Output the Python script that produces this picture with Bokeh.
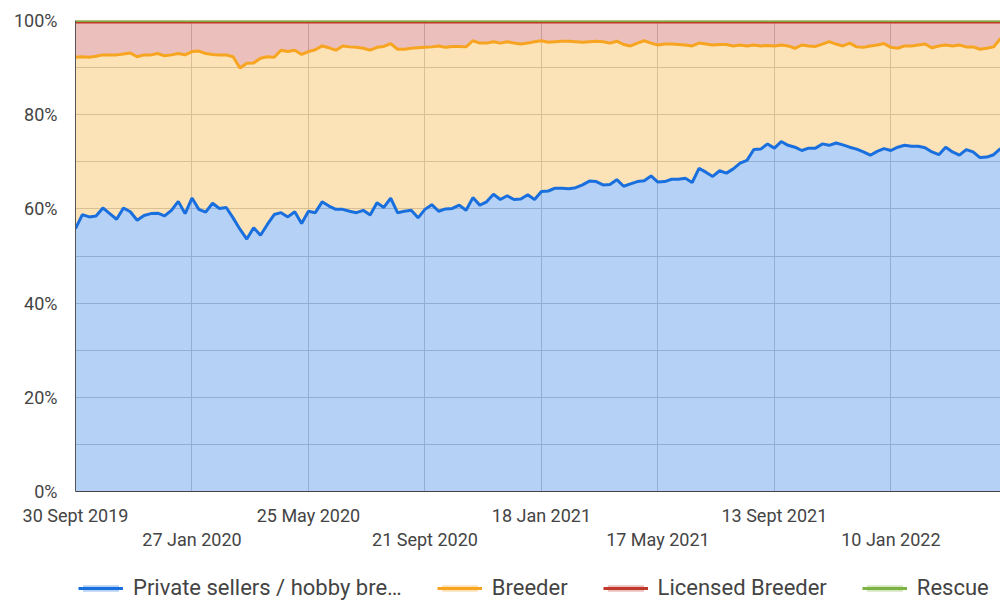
from bokeh.plotting import figure
from bokeh.layouts import column
from bokeh.models import (ColumnDataSource, Range1d, FixedTicker, LinearAxis,
                          Legend, LegendItem)
from bokeh.embed import file_html
from bokeh.resources import INLINE

# ---- data (weekly shares, %), week 0 = 30 Sept 2019 ----
private = [
    55.8, 58.8, 58.3, 58.5, 60.2, 59.0, 57.8, 60.2, 59.4, 57.6,
    58.6, 59.0, 59.1, 58.5, 59.7, 61.6, 59.0, 62.3, 59.9, 59.3,
    61.2, 60.1, 60.3, 58.1, 55.7, 53.6, 56.0, 54.4, 56.7, 58.8,
    59.2, 58.3, 59.4, 56.9, 59.5, 59.2, 61.5, 60.6, 59.9, 59.9,
    59.5, 59.2, 59.7, 58.7, 61.3, 60.3, 62.3, 59.2, 59.5, 59.7,
    58.1, 59.9, 60.9, 59.5, 60.0, 60.1, 60.8, 59.7, 62.4, 60.8,
    61.5, 63.1, 62.0, 62.8, 62.0, 62.1, 63.0, 62.0, 63.7, 63.8,
    64.4, 64.4, 64.3, 64.5, 65.1, 65.9, 65.8, 65.1, 65.2, 66.2,
    64.8, 65.3, 65.8, 66.0, 67.0, 65.7, 65.8, 66.3, 66.3, 66.5,
    65.6, 68.6, 67.8, 66.9, 68.1, 67.6, 68.5, 69.7, 70.3, 72.6,
    72.7, 73.8, 72.9, 74.3, 73.5, 73.1, 72.4, 72.9, 72.9, 73.8,
    73.5, 74.0, 73.6, 73.1, 72.7, 72.1, 71.4, 72.2, 72.8, 72.4,
    73.1, 73.5, 73.3, 73.3, 73.0, 72.1, 71.5, 73.1, 72.1, 71.4,
    72.6, 72.1, 70.9, 71.0, 71.5, 72.8,
]
breeder = [
    36.4, 33.5, 33.9, 33.9, 32.5, 33.7, 34.9, 32.7, 33.7, 34.7,
    34.1, 33.7, 33.9, 34.0, 33.0, 31.4, 33.7, 31.1, 33.6, 33.7,
    31.6, 32.6, 32.4, 34.2, 34.2, 37.3, 35.0, 37.6, 35.6, 33.4,
    34.5, 35.1, 34.3, 35.9, 33.9, 34.6, 33.1, 33.6, 33.8, 34.7,
    34.9, 35.1, 34.4, 35.0, 33.0, 34.2, 32.8, 34.7, 34.4, 34.4,
    36.1, 34.4, 33.5, 35.1, 34.3, 34.4, 33.7, 34.7, 33.3, 34.4,
    33.7, 32.4, 33.2, 32.7, 33.2, 32.9, 32.2, 33.5, 32.0, 31.6,
    31.1, 31.2, 31.3, 31.0, 30.3, 29.6, 29.8, 30.4, 30.0, 29.4,
    30.1, 29.3, 29.4, 29.7, 28.2, 29.1, 29.2, 28.7, 28.6, 28.3,
    29.0, 26.6, 27.2, 27.9, 26.8, 27.3, 26.1, 25.1, 24.3, 22.2,
    21.9, 20.9, 21.7, 20.5, 21.1, 21.0, 22.4, 21.7, 21.6, 21.2,
    22.0, 21.0, 21.0, 22.1, 21.7, 22.2, 23.2, 22.6, 22.3, 21.9,
    21.0, 21.1, 21.3, 21.5, 22.0, 22.1, 23.1, 21.7, 22.5, 23.4,
    21.8, 22.3, 23.0, 23.1, 22.9, 23.4,
]
licensed = [
    7.5, 7.4, 7.5, 7.3, 7.0, 7.0, 7.0, 6.8, 6.6, 7.4,
    7.0, 7.0, 6.7, 7.2, 7.0, 6.7, 7.0, 6.3, 6.2, 6.7,
    6.9, 7.0, 7.0, 7.4, 9.8, 8.8, 8.7, 7.7, 7.4, 7.5,
    6.0, 6.3, 6.0, 6.9, 6.3, 5.9, 5.1, 5.5, 6.0, 5.1,
    5.3, 5.4, 5.6, 6.0, 5.4, 5.2, 4.6, 5.8, 5.8, 5.6,
    5.5, 5.4, 5.3, 5.1, 5.4, 5.2, 5.2, 5.3, 4.0, 4.5,
    4.5, 4.2, 4.5, 4.2, 4.5, 4.7, 4.5, 4.2, 4.0, 4.3,
    4.2, 4.1, 4.1, 4.2, 4.3, 4.2, 4.1, 4.2, 4.5, 4.1,
    4.8, 5.1, 4.5, 4.0, 4.5, 4.9, 4.7, 4.7, 4.8, 4.9,
    5.1, 4.5, 4.7, 4.9, 4.8, 4.8, 5.1, 4.9, 5.1, 4.9,
    5.1, 5.0, 5.1, 4.9, 5.1, 5.6, 4.9, 5.1, 5.2, 4.7,
    4.2, 4.7, 5.1, 4.5, 5.3, 5.4, 5.1, 4.9, 4.6, 5.4,
    5.6, 5.1, 5.1, 4.9, 4.7, 5.5, 5.1, 4.9, 5.1, 4.9,
    5.3, 5.3, 5.8, 5.6, 5.3, 3.5,
]
rescue = [
    0.3, 0.3, 0.3, 0.3, 0.3, 0.3, 0.3, 0.3, 0.3, 0.3,
    0.3, 0.3, 0.3, 0.3, 0.3, 0.3, 0.3, 0.3, 0.3, 0.3,
    0.3, 0.3, 0.3, 0.3, 0.3, 0.3, 0.3, 0.3, 0.3, 0.3,
    0.3, 0.3, 0.3, 0.3, 0.3, 0.3, 0.3, 0.3, 0.3, 0.3,
    0.3, 0.3, 0.3, 0.3, 0.3, 0.3, 0.3, 0.3, 0.3, 0.3,
    0.3, 0.3, 0.3, 0.3, 0.3, 0.3, 0.3, 0.3, 0.3, 0.3,
    0.3, 0.3, 0.3, 0.3, 0.3, 0.3, 0.3, 0.3, 0.3, 0.3,
    0.3, 0.3, 0.3, 0.3, 0.3, 0.3, 0.3, 0.3, 0.3, 0.3,
    0.3, 0.3, 0.3, 0.3, 0.3, 0.3, 0.3, 0.3, 0.3, 0.3,
    0.3, 0.3, 0.3, 0.3, 0.3, 0.3, 0.3, 0.3, 0.3, 0.3,
    0.3, 0.3, 0.3, 0.3, 0.3, 0.3, 0.3, 0.3, 0.3, 0.3,
    0.3, 0.3, 0.3, 0.3, 0.3, 0.3, 0.3, 0.3, 0.3, 0.3,
    0.3, 0.3, 0.3, 0.3, 0.3, 0.3, 0.3, 0.3, 0.3, 0.3,
    0.3, 0.3, 0.3, 0.3, 0.3, 0.3,
]
series_names = ["Private sellers / hobby bre\u2026", "Breeder", "Licensed Breeder", "Rescue"]
tick_weeks = [0, 17, 34, 51, 68, 85, 102, 119]
tick_labels = ["30 Sept 2019", "27 Jan 2020", "25 May 2020", "21 Sept 2020",
               "18 Jan 2021", "17 May 2021", "13 Sept 2021", "10 Jan 2022"]
y_ticks = [0, 20, 40, 60, 80, 100]

line_colors = ["#1a6fdf", "#f7a520", "#c0392b", "#7cb342"]
FONT = "Roboto"
TXT = "#444444"
FILL_ALPHA = 0.32

src = ColumnDataSource(dict(x=list(range(len(private))), private=private,
                            breeder=breeder, licensed=licensed, rescue=rescue))
keys = ["private", "breeder", "licensed", "rescue"]

p = figure(width=1000, height=573, output_backend="svg", toolbar_location=None,
           x_range=Range1d(0, len(private) - 1), y_range=Range1d(0, 100),
           min_border_left=75, min_border_right=0, min_border_top=20,
           min_border_bottom=82, x_axis_location=None)
p.outline_line_color = None
p.background_fill_color = "white"

p.varea_stack(keys, x="x", source=src, color=line_colors, fill_alpha=FILL_ALPHA)
p.vline_stack(keys, x="x", source=src, color=line_colors, line_width=3)

# grids
p.xgrid.ticker = FixedTicker(ticks=tick_weeks)
p.ygrid.ticker = FixedTicker(ticks=list(range(0, 101, 10)))
p.xgrid.grid_line_color = "#cccccc"
p.ygrid.grid_line_color = "#cccccc"

# y axis
ya = p.yaxis[0]
ya.ticker = FixedTicker(ticks=y_ticks)
ya.major_label_overrides = {v: f"{v}%" for v in y_ticks}
ya.major_tick_line_color = None
ya.minor_tick_line_color = None
ya.axis_line_color = "#555555"
ya.major_label_standoff = 12
ya.major_label_text_font = FONT
ya.major_label_text_font_size = "18px"
ya.major_label_text_color = TXT

def make_xaxis(ticks, standoff, tick_out, line):
    ax = LinearAxis(ticker=FixedTicker(ticks=ticks),
                    major_label_overrides={t: tick_labels[tick_weeks.index(t)] for t in ticks})
    ax.major_tick_line_color = None
    ax.minor_tick_line_color = None
    ax.major_tick_out = tick_out
    ax.axis_line_color = "#444444" if line else None
    ax.major_label_standoff = standoff
    ax.major_label_text_font = FONT
    ax.major_label_text_font_size = "18px"
    ax.major_label_text_color = TXT
    return ax

p.add_layout(make_xaxis(tick_weeks[0::2], 13, 0, True), "below")
p.add_layout(make_xaxis(tick_weeks[1::2], 0, 0, False), "below")

# legend strip (glyph sources hold points outside the visible range)
lf = figure(width=1000, height=27, output_backend="svg", toolbar_location=None,
            x_range=Range1d(0, 1), y_range=Range1d(0, 1),
            min_border_left=0, min_border_right=0, min_border_top=0,
            min_border_bottom=0, x_axis_location=None, y_axis_location=None)
lf.outline_line_color = None
lf.grid.visible = False
dummy = ColumnDataSource(dict(x=[5, 6], y=[5, 5], y0=[4, 4]))
items = []
for name, c in zip(series_names, line_colors):
    a = lf.varea(x="x", y1="y0", y2="y", source=dummy, fill_color=c, fill_alpha=FILL_ALPHA)
    l = lf.line(x="x", y="y", source=dummy, line_color=c, line_width=3)
    items.append(LegendItem(label=name, renderers=[a, l]))
legend = Legend(items=items, orientation="horizontal", location=(3, 0),
                glyph_width=45, glyph_height=8, label_standoff=10, spacing=35,
                padding=0, margin=0, border_line_color=None, background_fill_alpha=0,
                label_text_font=FONT, label_text_font_size="22px",
                label_text_color=TXT)
lf.add_layout(legend, "center")

open("out.html", "w").write(file_html(column(p, lf, spacing=0), INLINE))
